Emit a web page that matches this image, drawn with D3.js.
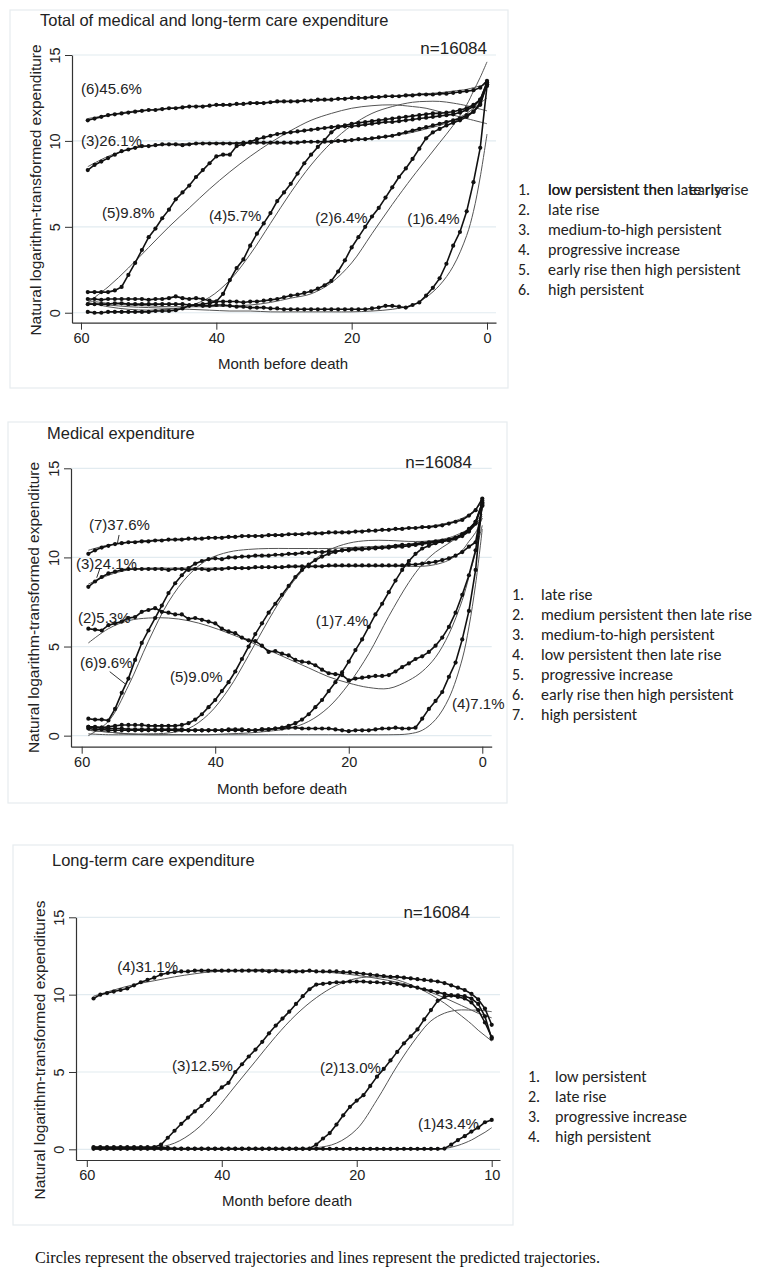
<!DOCTYPE html>
<html>
<head>
<meta charset="utf-8">
<script src="https://cdn.jsdelivr.net/npm/d3@7/dist/d3.min.js"></script>
<style>
  body { margin: 0; background: #fff; }
  svg { display: block; }
</style>
</head>
<body>
<svg id="chart" width="767" height="1270"></svg>
<script>
// ---------------- DATA ----------------
const months = [59,58,57,56,55,54,53,52,51,50,49,48,47,46,45,44,43,42,41,40,
                39,38,37,36,35,34,33,32,31,30,29,28,27,26,25,24,23,22,21,20,
                19,18,17,16,15,14,13,12,11,10,9,8,7,6,5,4,3,2,1,0];
const predMonths = [59,56,53,50,47,44,41,38,35,32,29,26,23,20,17,14,11,9,7,5,3,2,1,0];

const xTickValues = [60,40,20,0];
const yTickValues = [0,5,10,15];
const xTickLabelsAB = ["60","40","20","0"];
const xTickLabelsC = ["60","40","20","10"];
const nLabel = "n=16084";
const xTitle = "Month before death";
const yTitleAB = "Natural logarithm-transformed expenditure";
const yTitleC = "Natural logarithm-transformed expenditures";
const footnote = "Circles represent the observed trajectories and lines represent the predicted trajectories.";

// ---- Panel A: total ----
const titleA = "Total of medical and long-term care expenditure";
const groupsA = ["(1)6.4%","(2)6.4%","(3)26.1%","(4)5.7%","(5)9.8%","(6)45.6%"];
const legendA = ["low persistent then late rise","late rise","medium-to-high persistent",
                 "progressive increase","early rise then high persistent","high persistent"];
const legendAPrefix = "low persistent then ";
const legendAOverlay = "early rise";
const obsA1 = [0.5,0.5,0.5,0.5,0.55,0.55,0.5,0.5,0.5,0.5, 0.5,0.5,0.5,0.5,0.5,0.45,0.45,0.4,0.4,0.45,
               0.45,0.4,0.35,0.35,0.3,0.3,0.3,0.25,0.25,0.2, 0.2,0.2,0.2,0.2,0.2,0.2,0.2,0.2,0.2,0.2,
               0.2,0.2,0.25,0.3,0.4,0.4,0.35,0.3,0.45,0.6, 1.0,1.45,2.0,2.85,3.9,4.7,5.9,7.6,9.6,13.2];
const obsA2 = [0.8,0.8,0.75,0.8,0.8,0.8,0.8,0.8,0.8,0.75, 0.8,0.8,0.85,0.95,0.85,0.8,0.85,0.8,0.7,0.65,
               0.65,0.65,0.65,0.6,0.65,0.65,0.7,0.75,0.8,0.9, 1.0,1.05,1.15,1.25,1.4,1.6,1.85,2.4,3.05,3.8,
               4.4,5.0,5.6,6.1,6.7,7.3,7.9,8.4,8.95,9.55, 10.15,10.5,10.7,10.9,11.05,11.2,11.4,11.7,12.2,13.3];
const obsA3 = [8.3,8.6,8.8,9.0,9.2,9.4,9.5,9.6,9.7,9.7, 9.75,9.8,9.8,9.8,9.75,9.8,9.85,9.85,9.85,9.85,
               9.85,9.85,9.85,9.9,9.9,9.9,9.9,9.9,9.9,9.9, 9.9,9.9,9.95,9.95,9.95,9.95,9.95,10.0,10.0,10.05,
               10.1,10.1,10.15,10.2,10.25,10.3,10.4,10.5,10.6,10.7, 10.8,10.9,11.0,11.1,11.2,11.3,11.5,11.7,12.1,13.3];
const obsA4 = [0.05,0.0,0.0,0.05,0.05,0.05,0.05,0.05,0.05,0.05, 0.1,0.1,0.1,0.15,0.25,0.4,0.45,0.5,0.55,0.65,
               1.1,1.9,2.6,3.1,3.9,4.6,5.2,5.8,6.5,7.0, 7.5,8.1,8.7,9.2,9.65,10.05,10.5,10.8,10.85,10.85,
               10.9,10.95,11.0,11.05,11.1,11.1,11.15,11.2,11.25,11.3, 11.35,11.4,11.45,11.5,11.55,11.65,11.8,12.0,12.4,13.4];
const obsA5 = [1.2,1.2,1.2,1.2,1.3,1.5,2.2,2.9,3.65,4.4, 4.9,5.5,6.0,6.6,7.0,7.4,7.9,8.3,8.7,9.1,
               9.2,9.2,9.7,9.8,9.95,10.1,10.2,10.3,10.4,10.45, 10.5,10.55,10.6,10.65,10.7,10.75,10.8,10.85,10.9,11.0,
               11.05,11.1,11.15,11.2,11.25,11.3,11.35,11.4,11.45,11.5, 11.55,11.6,11.6,11.65,11.7,11.8,11.9,12.1,12.4,13.4];
const obsA6 = [11.2,11.3,11.4,11.5,11.55,11.6,11.65,11.7,11.75,11.8, 11.8,11.85,11.9,11.9,11.95,12.0,12.0,12.0,12.05,12.1,
               12.1,12.1,12.15,12.15,12.2,12.2,12.2,12.25,12.3,12.3, 12.3,12.3,12.35,12.35,12.4,12.4,12.4,12.45,12.45,12.5,
               12.5,12.5,12.55,12.55,12.6,12.6,12.6,12.65,12.65,12.7, 12.7,12.7,12.75,12.75,12.8,12.85,12.9,12.95,13.1,13.5];
const predA1 = [0.55,0.45,0.35,0.3,0.25,0.2,0.15,0.1,0.1,0.05,0.05,0.05,0.05,0.05,0.1,0.2,0.45,0.9,1.6,2.7,4.5,5.9,7.9,10.4];
const predA2 = [0.7,0.55,0.45,0.4,0.35,0.35,0.35,0.4,0.45,0.6,0.85,1.1,1.75,2.9,4.6,6.3,7.9,8.9,9.9,10.9,12.1,12.9,13.7,14.6];
const predA3 = [8.5,9.1,9.5,9.7,9.8,9.85,9.9,9.9,9.9,9.9,9.9,9.95,10.0,10.05,10.15,10.3,10.5,10.7,10.9,11.2,11.6,11.9,12.2,12.5];
const predA4 = [0.6,0.35,0.2,0.15,0.2,0.4,0.9,1.9,3.4,5.2,7.0,8.6,9.9,10.9,11.6,12.0,12.25,12.3,12.3,12.2,12.05,11.95,11.85,11.75];
const predA5 = [0.6,1.5,2.6,3.8,5.0,6.1,7.2,8.2,9.1,9.9,10.6,11.2,11.6,11.9,12.05,12.1,12.0,11.9,11.7,11.5,11.3,11.2,11.1,11.0];
const predA6 = [11.3,11.5,11.7,11.8,11.9,12.0,12.05,12.1,12.2,12.25,12.3,12.35,12.4,12.5,12.55,12.6,12.7,12.75,12.8,12.9,13.0,13.1,13.2,13.3];

// ---- Panel B: medical ----
const titleB = "Medical expenditure";
const groupsB = ["(1)7.4%","(2)5.3%","(3)24.1%","(4)7.1%","(5)9.0%","(6)9.6%","(7)37.6%"];
const legendB = ["late rise","medium persistent then late rise","medium-to-high persistent",
                 "low persistent then late rise","progressive increase","early rise then high persistent","high persistent"];
const obsB1 = [0.5,0.45,0.45,0.4,0.4,0.4,0.35,0.35,0.35,0.35, 0.35,0.35,0.35,0.35,0.35,0.3,0.3,0.3,0.3,0.3,
               0.3,0.3,0.3,0.3,0.3,0.3,0.35,0.35,0.4,0.45, 0.55,0.7,0.9,1.2,1.6,2.0,2.5,3.0,3.55,4.15,
               4.8,5.4,6.1,6.8,7.4,8.05,8.7,9.3,9.8,10.2, 10.5,10.65,10.8,10.9,11.0,11.1,11.3,11.6,12.0,13.0];
const obsB2 = [6.0,5.95,5.9,6.2,6.3,6.4,6.6,6.65,6.95,7.05, 7.15,6.95,6.9,6.8,6.8,6.55,6.6,6.5,6.4,6.3,
               6.0,5.85,5.75,5.5,5.35,5.3,5.05,4.7,4.75,4.6, 4.5,4.25,4.15,4.1,3.95,3.7,3.5,3.45,3.4,3.1,
               3.2,3.25,3.3,3.35,3.35,3.4,3.6,3.85,4.05,4.3, 4.45,4.7,5.05,5.5,6.1,6.9,7.9,9.0,10.4,12.9];
const obsB3 = [8.35,8.65,8.9,9.1,9.2,9.3,9.35,9.35,9.35,9.35, 9.35,9.35,9.3,9.35,9.35,9.3,9.35,9.35,9.3,9.35,
               9.35,9.4,9.4,9.4,9.4,9.45,9.45,9.45,9.45,9.45, 9.5,9.5,9.5,9.5,9.5,9.5,9.55,9.55,9.55,9.55,
               9.55,9.55,9.55,9.55,9.55,9.55,9.55,9.55,9.6,9.6, 9.65,9.7,9.75,9.85,9.95,10.1,10.3,10.6,10.85,12.9];
const obsB4 = [0.4,0.35,0.35,0.3,0.3,0.3,0.3,0.3,0.3,0.3, 0.3,0.3,0.3,0.3,0.3,0.3,0.3,0.3,0.3,0.3,
               0.3,0.35,0.35,0.35,0.3,0.3,0.35,0.35,0.4,0.4, 0.45,0.45,0.4,0.4,0.4,0.4,0.4,0.35,0.3,0.25,
               0.3,0.3,0.3,0.35,0.4,0.4,0.45,0.4,0.4,0.45, 0.95,1.5,1.95,2.45,3.3,4.1,5.4,7.0,9.3,13.2];
const obsB5 = [0.5,0.5,0.45,0.5,0.55,0.6,0.6,0.6,0.6,0.55, 0.55,0.55,0.55,0.55,0.6,0.7,0.9,1.2,1.6,2.0,
               2.5,3.0,3.6,4.3,5.0,5.7,6.3,6.9,7.4,7.9, 8.4,8.9,9.3,9.6,9.85,10.05,10.2,10.3,10.4,10.45,
               10.5,10.5,10.5,10.55,10.55,10.6,10.65,10.7,10.7,10.75, 10.8,10.85,10.9,10.95,11.0,11.1,11.3,11.5,12.0,13.1];
const obsB6 = [0.95,0.9,0.9,0.85,1.5,2.4,3.2,4.25,5.2,5.9, 6.6,7.3,8.0,8.55,9.0,9.4,9.65,9.8,9.9,9.95,
               9.9,10.0,10.0,10.05,10.05,10.1,10.1,10.1,10.15,10.15, 10.2,10.2,10.25,10.25,10.3,10.3,10.35,10.35,10.4,10.4,
               10.45,10.45,10.5,10.5,10.55,10.55,10.6,10.6,10.65,10.7, 10.75,10.8,10.85,10.9,10.95,11.05,11.2,11.45,11.9,13.0];
const obsB7 = [10.2,10.4,10.55,10.65,10.75,10.8,10.85,10.85,10.9,10.9, 10.95,10.95,11.0,11.0,11.0,11.05,11.05,11.05,11.1,11.1,
               11.1,11.15,11.15,11.2,11.2,11.2,11.2,11.25,11.25,11.25, 11.3,11.3,11.3,11.35,11.35,11.35,11.4,11.4,11.4,11.4,
               11.45,11.45,11.5,11.5,11.55,11.55,11.6,11.6,11.65,11.65, 11.7,11.7,11.75,11.8,11.9,12.0,12.1,12.35,12.65,13.3];
const predB1 = [0.3,0.2,0.1,0.05,0.05,0.05,0.05,0.1,0.15,0.25,0.4,0.8,1.6,2.9,4.6,6.7,8.6,9.6,10.3,10.8,11.3,11.6,12.0,12.4];
const predB2 = [5.2,6.0,6.45,6.6,6.6,6.45,6.15,5.75,5.3,4.8,4.3,3.8,3.3,2.95,2.7,2.65,3.1,3.6,4.4,5.7,7.6,8.9,10.3,11.8];
const predB3 = [8.5,9.0,9.3,9.4,9.4,9.4,9.4,9.4,9.4,9.45,9.45,9.5,9.5,9.5,9.5,9.5,9.5,9.5,9.6,9.85,10.4,10.9,11.4,12.2];
const predB4 = [0.1,0.05,0.05,0.05,0.05,0.05,0.05,0.05,0.05,0.05,0.05,0.05,0.05,0.05,0.05,0.05,0.1,0.3,0.9,2.1,4.3,6.1,8.5,11.6];
const predB5 = [0.3,0.2,0.1,0.1,0.15,0.4,1.2,2.6,4.5,6.5,8.3,9.6,10.4,10.8,10.95,10.95,10.9,10.9,10.95,11.05,11.3,11.5,11.8,12.2];
const predB6 = [0.0,0.8,2.8,5.3,7.5,9.0,9.9,10.3,10.45,10.5,10.5,10.5,10.5,10.55,10.6,10.65,10.75,10.85,10.95,11.1,11.4,11.6,11.9,12.3];
const predB7 = [10.4,10.7,10.85,10.95,11.0,11.05,11.1,11.15,11.2,11.25,11.3,11.35,11.4,11.45,11.5,11.55,11.65,11.7,11.8,11.95,12.2,12.4,12.7,13.1];

// ---- Panel C: long-term care ----
const titleC = "Long-term care expenditure";
const groupsC = ["(1)43.4%","(2)13.0%","(3)12.5%","(4)31.1%"];
const legendC = ["low persistent","late rise","progressive increase","high persistent"];
const obsC1 = [0.03,0.03,0.03,0.03,0.03,0.03,0.03,0.03,0.03,0.03, 0.03,0.03,0.03,0.03,0.03,0.03,0.03,0.03,0.03,0.03,
               0.03,0.03,0.03,0.03,0.03,0.03,0.03,0.03,0.03,0.03, 0.03,0.03,0.03,0.03,0.03,0.03,0.03,0.03,0.03,0.03,
               0.03,0.03,0.03,0.03,0.03,0.03,0.03,0.03,0.03,0.03, 0.03,0.03,0.05,0.3,0.6,0.85,1.15,1.4,1.75,1.9];
const obsC2 = [0.1,0.1,0.1,0.1,0.1,0.1,0.1,0.1,0.1,0.1, 0.1,0.1,0.05,0.05,0.05,0.05,0.05,0.05,0.05,0.05,
               0.05,0.05,0.05,0.05,0.05,0.05,0.05,0.05,0.05,0.05, 0.05,0.05,0.05,0.3,0.7,1.05,1.6,2.2,2.75,3.15,
               3.5,4.1,4.7,5.2,5.75,6.3,6.85,7.3,7.75,8.4, 9.0,9.6,9.85,9.95,9.95,9.9,9.75,9.4,8.6,7.15];
const obsC3 = [0.15,0.15,0.15,0.15,0.15,0.15,0.15,0.15,0.15,0.15, 0.3,0.75,1.2,1.65,2.05,2.45,2.8,3.2,3.6,4.0,
               4.3,5.0,5.5,6.0,6.45,6.95,7.5,8.0,8.45,8.9, 9.4,9.9,10.35,10.65,10.7,10.75,10.8,10.8,10.85,10.85,
               10.85,10.8,10.8,10.75,10.75,10.7,10.6,10.55,10.45,10.35, 10.25,10.15,10.05,9.95,9.85,9.75,9.5,9.0,8.2,7.25];
const obsC4 = [9.75,10.0,10.1,10.2,10.3,10.4,10.6,10.8,10.95,11.1, 11.3,11.4,11.45,11.5,11.5,11.55,11.55,11.55,11.55,11.55,
               11.55,11.55,11.55,11.55,11.55,11.55,11.5,11.55,11.5,11.5, 11.5,11.5,11.55,11.5,11.5,11.5,11.5,11.45,11.45,11.4,
               11.35,11.3,11.25,11.2,11.15,11.15,11.1,11.05,11.0,10.95, 10.9,10.85,10.75,10.6,10.45,10.3,10.05,9.7,9.1,8.05];
const predC1 = [0,0,0,0,0,0,0,0,0,0,0,0,0,0,0,0,0,0,0.05,0.25,0.6,0.85,1.1,1.4];
const predC2 = [0.05,0.05,0.05,0.05,0.05,0.05,0.05,0.05,0.05,0.05,0.05,0.1,0.4,1.3,3.2,5.4,7.3,8.3,8.8,9.0,9.0,9.0,8.95,8.9];
const predC3 = [0.15,0.1,0.05,0.1,0.4,1.2,2.5,4.1,5.7,7.3,8.7,9.8,10.6,11.05,11.15,10.95,10.45,10.0,9.45,8.8,8.1,7.7,7.35,7.0];
const predC4 = [9.9,10.3,10.65,10.9,11.15,11.35,11.5,11.55,11.6,11.6,11.55,11.5,11.4,11.25,11.05,10.8,10.45,10.15,9.8,9.4,9.0,8.8,8.65,8.5];

// ---------------- LAYOUT ----------------
const FONT = "'Liberation Sans', Arial, sans-serif";
const LEGFONT = "Carlito, Lato, 'Noto Sans', sans-serif";
const svg = d3.select("#chart");

const panels = [
  { frame:[10,10,498,378], title:titleA, titleXY:[40,26],
    xDomain:[61.33,-1.33], xRange:[72,496], yDomain:[-0.58,15], yRange:[322.7,55],
    xLabels:xTickLabelsAB, yTitle:yTitleAB, yTitleXY:[35,190], xTitleXY:[283,369],
    n:[0,15.06],
    obs:[obsA1,obsA2,obsA3,obsA4,obsA5,obsA6], pred:[predA1,predA2,predA3,predA4,predA5,predA6],
    labels:groupsA, labelPos:[[11.8,5.15],[25.4,5.23],[60.0,9.73],[41.1,5.31],[56.9,5.52],[60.0,12.75]],
    leaders:[],
    legend:legendA, legendXY:[518,548,195] },
  { frame:[8,422,499,381], title:titleB, titleXY:[47,439],
    xDomain:[61.6,-1.41], xRange:[71,491.7], yDomain:[-0.62,15], yRange:[746.7,468.3],
    xLabels:xTickLabelsAB, yTitle:yTitleAB, yTitleXY:[33.3,607.5], xTitleXY:[282,793.5],
    n:[1.54,15.01],
    obs:[obsB1,obsB2,obsB3,obsB4,obsB5,obsB6,obsB7], pred:[predB1,predB2,predB3,predB4,predB5,predB6,predB7],
    labels:groupsB, labelPos:[[24.93,6.18],[60.55,6.31],[60.85,9.36],[4.54,1.51],[46.77,3.0],[60.25,3.81],[58.9,11.56]],
    leaders:[[[54.4,11.26],[54.65,10.79]],[[57.3,9.35],[57.75,8.86]],[[55.8,3.59],[53.4,2.88]]],
    legend:legendB, legendXY:[512,541,600] },
  { frame:[13,845,500,380], title:titleC, titleXY:[52,866],
    xDomain:[61.6,-1.23], xRange:[76,500], yDomain:[-0.69,15], yRange:[1160,917.3],
    xLabels:xTickLabelsC, yTitle:yTitleC, yTitleXY:[39.3,1050], xTitleXY:[287,1206],
    n:[3.21,14.95],
    obs:[obsC1,obsC2,obsC3,obsC4], pred:[predC1,predC2,predC3,predC4],
    labels:groupsC, labelPos:[[10.92,1.33],[25.44,4.95],[47.36,5.06],[55.5,11.49]],
    leaders:[],
    legend:legendC, legendXY:[528,555,1082] }
];

panels.forEach((p, pi) => {
  const g = svg.append("g");
  // frame
  g.append("rect").attr("x",p.frame[0]).attr("y",p.frame[1])
    .attr("width",p.frame[2]).attr("height",p.frame[3])
    .attr("fill","#fff").attr("stroke","#e6ecef").attr("stroke-width",1.2);

  const x = d3.scaleLinear().domain(p.xDomain).range(p.xRange);
  const y = d3.scaleLinear().domain(p.yDomain).range(p.yRange);

  // grid
  g.append("g").selectAll("line").data(yTickValues).join("line")
    .attr("x1",p.xRange[0]).attr("x2",p.xRange[1])
    .attr("y1",d=>y(d)).attr("y2",d=>y(d))
    .attr("stroke","#e2ebf0").attr("stroke-width",1.2);

  // title
  g.append("text").attr("x",p.titleXY[0]).attr("y",p.titleXY[1])
    .attr("font-family",FONT).attr("font-size",16.5).attr("fill","#222").text(p.title);

  // axes
  const xAxis = d3.axisBottom(x).tickValues(xTickValues)
    .tickFormat((d,i)=>p.xLabels[i]).tickSize(7).tickSizeOuter(0).tickPadding(3);
  const gx = g.append("g").attr("transform",`translate(0,${p.yRange[0]})`).call(xAxis);
  gx.selectAll("text").attr("font-family",FONT).attr("font-size",14.5).attr("fill","#222");
  gx.selectAll("line,path").attr("stroke","#333");

  const yAxis = d3.axisLeft(y).tickValues(yTickValues).tickSize(7).tickSizeOuter(0);
  const gy = g.append("g").attr("transform",`translate(${p.xRange[0]},0)`).call(yAxis);
  gy.selectAll("line,path").attr("stroke","#333");
  gy.selectAll("text").attr("font-family",FONT).attr("font-size",14.5).attr("fill","#222")
    .attr("transform","rotate(-90)").attr("x",0).attr("y",-12).attr("dy",0)
    .attr("text-anchor","middle");
  g.selectAll(".domain").attr("stroke-width",1.2);

  // axis titles
  g.append("text").attr("transform",`translate(${p.yTitleXY[0]+5.5},${p.yTitleXY[1]}) rotate(-90)`)
    .attr("text-anchor","middle").attr("font-family",FONT).attr("font-size",15.5).attr("fill","#222")
    .text(p.yTitle);
  g.append("text").attr("x",p.xTitleXY[0]).attr("y",p.xTitleXY[1]).attr("text-anchor","middle")
    .attr("font-family",FONT).attr("font-size",15).attr("fill","#222").text(xTitle);

  // n label
  g.append("text").attr("x",x(p.n[0])).attr("y",y(p.n[1])).attr("text-anchor","end")
    .attr("font-family",FONT).attr("font-size",17).attr("fill","#222").text(nLabel);

  // predicted lines
  const predLine = d3.line().x((d,i)=>x(predMonths[i])).y(d=>y(d)).curve(d3.curveCatmullRom.alpha(0.5));
  g.append("g").selectAll("path").data(p.pred).join("path")
    .attr("d",predLine).attr("fill","none").attr("stroke","#555").attr("stroke-width",1);

  // observed lines + dots
  const obsLine = d3.line().x((d,i)=>x(months[i])).y(d=>y(d));
  const og = g.append("g");
  og.selectAll("path").data(p.obs).join("path")
    .attr("d",obsLine).attr("fill","none").attr("stroke","#111").attr("stroke-width",1.6);
  p.obs.forEach(series => {
    og.append("g").selectAll("circle").data(series).join("circle")
      .attr("cx",(d,i)=>x(months[i])).attr("cy",d=>y(d)).attr("r",2.1).attr("fill","#111");
  });

  // leaders
  g.append("g").selectAll("line").data(p.leaders).join("line")
    .attr("x1",d=>x(d[0][0])).attr("y1",d=>y(d[0][1]))
    .attr("x2",d=>x(d[1][0])).attr("y2",d=>y(d[1][1]))
    .attr("stroke","#333").attr("stroke-width",1);

  // group labels
  g.append("g").selectAll("text").data(p.labels).join("text")
    .attr("x",(d,i)=>x(p.labelPos[i][0])).attr("y",(d,i)=>y(p.labelPos[i][1]))
    .attr("font-family",FONT).attr("font-size",15).attr("fill","#222").text(d=>d);

  // legend
  const lg = svg.append("g").attr("font-family",LEGFONT).attr("font-size",16).attr("fill","#222");
  p.legend.forEach((t,i) => {
    const yy = p.legendXY[2] + i*20;
    lg.append("text").attr("x",p.legendXY[0]).attr("y",yy).text((i+1)+".");
    lg.append("text").attr("x",p.legendXY[1]).attr("y",yy).text(t);
  });
  if (pi === 0) {
    // the reference shows a second, misaligned text printed over item 1
    const pre = lg.append("text").attr("x",p.legendXY[1]).attr("y",p.legendXY[2]).text(legendAPrefix);
    const w = pre.node().getComputedTextLength();
    lg.append("text").attr("x",p.legendXY[1] + w + 16).attr("y",p.legendXY[2]).text(legendAOverlay);
  }
});

// footnote
svg.append("text").attr("x",35).attr("y",1263)
  .attr("font-family","'Liberation Serif', 'Times New Roman', serif").attr("font-size",16.2)
  .attr("fill","#111").text(footnote);
</script>
</body>
</html>
